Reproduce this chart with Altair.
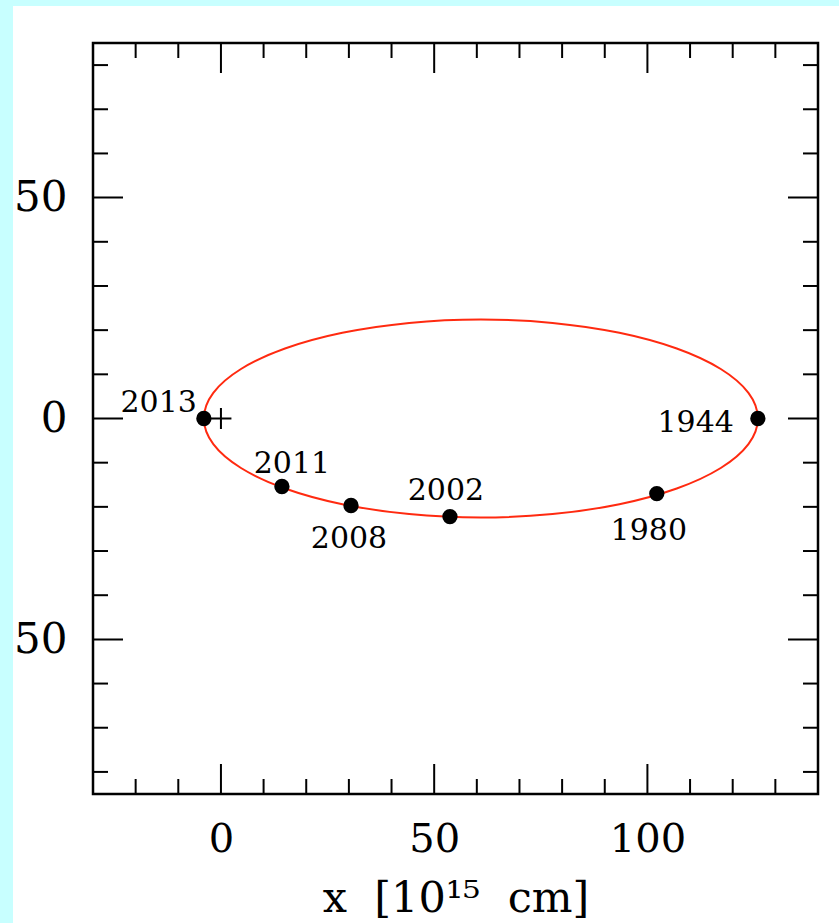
import altair as alt
import pandas as pd

# ---- data ----
years = ["2013", "2011", "2008", "2002", "1980", "1944"]
pt_x = [-4.0, 14.3, 30.5, 53.7, 102.2, 125.9]
pt_y = [0.0, -15.4, -19.7, -22.2, -17.0, 0.0]

ell_x = [125.90, 123.69, 117.20, 106.88, 93.43, 77.76, 60.95, 44.14, 28.47, 15.02, 4.70, -1.79,
         -4.00, -1.79, 4.70, 15.02, 28.47, 44.14, 60.95, 77.76, 93.43, 106.88, 117.20, 123.69]
ell_y = [0.0, 5.80, 11.20, 15.84, 19.40, 21.64, 22.40, 21.64, 19.40, 15.84, 11.20, 5.80,
         0.0, -5.80, -11.20, -15.84, -19.40, -21.64, -22.40, -21.64, -19.40, -15.84, -11.20, -5.80]

cross_x = [0.0]
cross_y = [0.0]

x_major = [0, 50, 100]
x_minor = [-20, -10, 10, 20, 30, 40, 60, 70, 80, 90, 110, 120, 130]
y_major = [-50, 0, 50]
y_minor = [-80, -70, -60, -40, -30, -20, -10, 10, 20, 30, 40, 60, 70, 80]

XDOM = [-30, 140]
YDOM = [-85, 85]

FONT = "DejaVu Serif"

pts = pd.DataFrame({"x": pt_x, "y": pt_y, "year": years})
ell = pd.DataFrame({"x": ell_x, "y": ell_y, "i": list(range(len(ell_x)))})
crs = pd.DataFrame({"x": cross_x, "y": cross_y})

xs = alt.Scale(domain=XDOM, nice=False, zero=False)
ys = alt.Scale(domain=YDOM, nice=False, zero=False)

xaxis = alt.Axis(values=x_major, ticks=False, domain=False, grid=False,
                 labelFont=FONT, labelFontSize=40, labelColor="black", labelPadding=25,
                 title="x\u00a0\u00a0[10\u00b9\u2075\u00a0\u00a0cm]", titleFont=FONT, titleFontSize=43,
                 titleFontWeight="normal", titleColor="black", titleY=117,
                 titleBaseline="alphabetic", zindex=1)
yaxis = alt.Axis(values=y_major, ticks=False, domain=False, grid=False,
                 labelFont=FONT, labelFontSize=42, labelColor="black", labelPadding=26,
                 labelExpr="format(abs(datum.value), 'd')", title=None, zindex=1)

ellipse = alt.Chart(ell).mark_line(color="#ff2a10", strokeWidth=2, interpolate="cardinal-closed").encode(
    x=alt.X("x:Q", scale=xs, axis=xaxis),
    y=alt.Y("y:Q", scale=ys, axis=yaxis),
    order="i:Q",
)

dots = alt.Chart(pts).mark_point(filled=True, color="black", size=235, opacity=1).encode(
    x=alt.X("x:Q", scale=xs), y=alt.Y("y:Q", scale=ys))

cross = alt.Chart(crs).mark_point(shape="M-1,0L1,0M0,-1L0,1", filled=False, stroke="black",
                                  strokeWidth=2, size=440, opacity=1).encode(
    x=alt.X("x:Q", scale=xs), y=alt.Y("y:Q", scale=ys))

# label placement styles (align, dx, dy)
label_style = {
    "2013": ("right", -7, -7),
    "2011": ("center", 10, -14),
    "2008": ("center", -2, 42),
    "2002": ("center", -4, -17),
    "1980": ("center", -8, 46),
    "1944": ("right", -24, 13),
}
labels = []
for yr, (al, dx, dy) in label_style.items():
    labels.append(
        alt.Chart(pts).transform_filter(alt.datum.year == yr).mark_text(
            font=FONT, fontSize=30, color="black", align=al, baseline="alphabetic", dx=dx, dy=dy
        ).encode(x=alt.X("x:Q", scale=xs), y=alt.Y("y:Q", scale=ys), text="year:N")
    )

def xticks(vals, size, yval):
    return alt.Chart(pd.DataFrame({"v": vals})).mark_tick(
        orient="vertical", size=size, thickness=2, color="black", clip=True, opacity=1
    ).encode(x=alt.X("v:Q", scale=xs), y=alt.datum(yval))

def yticks(vals, size, xval):
    return alt.Chart(pd.DataFrame({"v": vals})).mark_tick(
        orient="horizontal", size=size, thickness=2, color="black", clip=True, opacity=1
    ).encode(y=alt.Y("v:Q", scale=ys), x=alt.datum(xval))

ticks = [
    xticks(x_major, 60, YDOM[0]), xticks(x_minor, 30, YDOM[0]),
    xticks(x_major, 60, YDOM[1]), xticks(x_minor, 30, YDOM[1]),
    yticks(y_major, 60, XDOM[0]), yticks(y_minor, 30, XDOM[0]),
    yticks(y_major, 60, XDOM[1]), yticks(y_minor, 30, XDOM[1]),
]

# light cyan page strips (left and top)
strip_left = alt.Chart(crs).mark_rect(color="#c8ffff").encode(
    x=alt.value(-93), x2=alt.value(-80), y=alt.value(-43), y2=alt.value(880))
strip_top = alt.Chart(crs).mark_rect(color="#c8ffff").encode(
    x=alt.value(-93), x2=alt.value(746), y=alt.value(-43), y2=alt.value(-37))

chart = alt.layer(
    strip_left, strip_top, ellipse, *ticks, cross, dots, *labels
).properties(
    width=725, height=751,
    padding={"left": 93, "top": 43, "right": 21, "bottom": 129},
    autosize=alt.AutoSizeParams(type="none"),
    background="white",
).configure_view(
    stroke="black", strokeWidth=2.5
)

chart.save("out.html", embed_options={"renderer": "svg", "actions": False})
